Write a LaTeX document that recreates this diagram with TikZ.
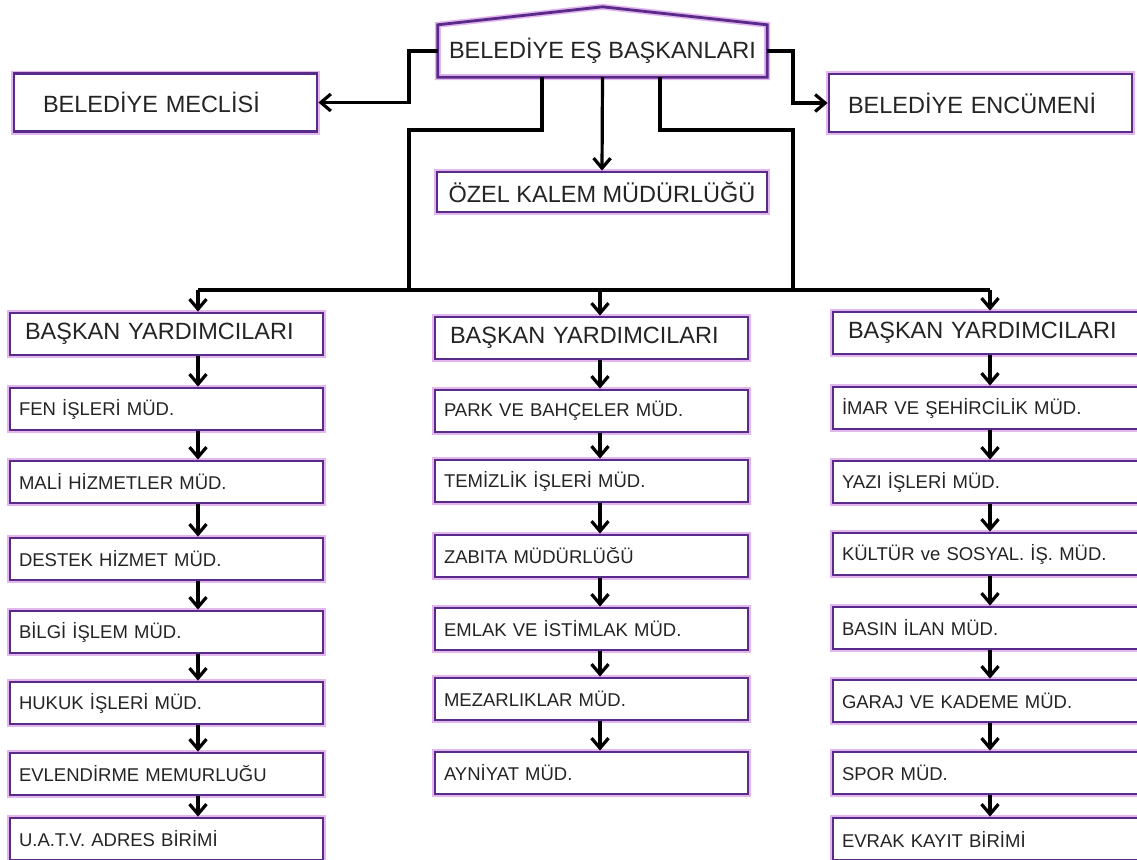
\documentclass[tikz,border=0pt]{standalone}
\usepackage{fontspec}
\setmainfont{Liberation Sans}
\usetikzlibrary{arrows.meta}

\definecolor{boxline}{RGB}{88,42,138}
\definecolor{halo}{RGB}{228,182,238}
\definecolor{ink}{RGB}{36,36,36}

\newcommand\bigfont{\fontsize{23.5}{28}\selectfont}
\newcommand\smallfont{\fontsize{18.5}{22}\selectfont}

\tikzset{
  box/.style={draw=boxline, line width=2.8pt, fill=white, text=ink,
    preaction={draw=halo, line width=6pt}},
  board/.style={box, font=\bigfont, minimum height=58pt, align=left},
  deputy/.style={box, font=\bigfont, minimum height=42pt, align=left,
    inner xsep=15pt, text width=283pt},
  unit/.style={box, font=\smallfont, minimum height=42pt, align=left,
    inner xsep=9pt, text width=295pt},
  wire/.style={line width=3.2pt, draw=black},
  link/.style={wire, -{Straight Barb[length=10pt,width=17pt]}}
}

\begin{document}
\begin{tikzpicture}[x=1pt,y=-1pt]
    \useasboundingbox (0,0) rectangle (1137,859);
    \fill[white] (0,0) rectangle (1137,859);

    % rails of the connectors
    \coordinate (lrail) at (409,0);
    \coordinate (rrail) at (793,0);
    \coordinate (lstub) at (542,130);
    \coordinate (rstub) at (660,130);
    \coordinate (bar) at (0,290);
    \coordinate (lcol) at (198,0);
    \coordinate (mcol) at (600,0);
    \coordinate (rcol) at (990,0);

    % top level
    \node[font=\bigfont, text=ink, minimum width=329pt, minimum height=52pt] at (602.5,51) (head) {BELEDİYE EŞ BAŞKANLARI};
    \draw[box, fill=none] (head.south west) -- (head.north west) -- ([yshift=18pt]head.north) -- (head.north east) -- (head.south east) -- cycle;
    \node[board, inner xsep=29pt, text width=245pt] at (165.5,102.5) (meclis) {BELEDİYE MECLİSİ};
    \node[board, inner xsep=19pt, text width=265pt] at (980.5,103) (encumen) {BELEDİYE ENCÜMENİ};
    \node[box, font=\bigfont, minimum width=330pt, minimum height=40pt] at (602,192) (ozel) {ÖZEL KALEM MÜDÜRLÜĞÜ};

    % deputies
    \node[deputy] at (166.5,334) (lyard) {BAŞKAN YARDIMCILARI};
    \node[deputy] at (591.5,338) (myard) {BAŞKAN YARDIMCILARI};
    \node[deputy] at (989.5,333) (ryard) {BAŞKAN YARDIMCILARI};

    % left column
    \node[unit] at (166.5,409) (fen) {FEN İŞLERİ MÜD.};
    \node[unit] at (166.5,482) (mali) {MALİ HİZMETLER MÜD.};
    \node[unit] at (166.5,559) (destek) {DESTEK HİZMET MÜD.};
    \node[unit] at (166.5,632) (bilgi) {BİLGİ İŞLEM MÜD.};
    \node[unit] at (166.5,703) (hukuk) {HUKUK İŞLERİ MÜD.};
    \node[unit] at (166.5,774) (evlen) {EVLENDİRME MEMURLUĞU};
    \node[unit] at (166.5,839) (uatv) {U.A.T.V. ADRES BİRİMİ};

    % middle column
    \node[unit] at (591.5,411) (park) {PARK VE BAHÇELER MÜD.};
    \node[unit] at (591.5,481) (temiz) {TEMİZLİK İŞLERİ MÜD.};
    \node[unit] at (591.5,556) (zabita) {ZABITA MÜDÜRLÜĞÜ};
    \node[unit] at (591.5,629) (emlak) {EMLAK VE İSTİMLAK MÜD.};
    \node[unit] at (591.5,699) (mezar) {MEZARLIKLAR MÜD.};
    \node[unit] at (591.5,773) (ayni) {AYNİYAT MÜD.};

    % right column
    \node[unit] at (989.5,408) (imar) {İMAR VE ŞEHİRCİLİK MÜD.};
    \node[unit] at (989.5,482) (yazi) {YAZI İŞLERİ MÜD.};
    \node[unit] at (989.5,554) (kultur) {KÜLTÜR ve SOSYAL. İŞ. MÜD.};
    \node[unit] at (989.5,628) (basin) {BASIN İLAN MÜD.};
    \node[unit] at (989.5,701) (garaj) {GARAJ VE KADEME MÜD.};
    \node[unit] at (989.5,773) (spor) {SPOR MÜD.};
    \node[unit] at (989.5,839) (evrak) {EVRAK KAYIT BİRİMİ};

    % connectors from the top
    \draw[link] (head.west) -- (head.west -| lrail) |- (meclis.east);
    \draw[link] (head.east) -- (head.east -| rrail) |- (encumen.west);
    \draw[link] (head.south) -- (ozel.north);
    \draw[wire] (head.south -| lstub) -- (lstub) -| (bar -| lrail);
    \draw[wire] (head.south -| rstub) -- (rstub) -| (bar -| rrail);
    \draw[wire] (bar -| lcol) -- (bar -| rcol);
    \draw[link] (bar -| lcol) -- (lyard.north -| lcol);
    \draw[link] (bar -| mcol) -- (myard.north -| mcol);
    \draw[link] (bar -| rcol) -- (ryard.north -| rcol);

    % left chain
    \draw[link] (lyard.south -| lcol) -- (fen.north -| lcol);
    \draw[link] (fen.south -| lcol) -- (mali.north -| lcol);
    \draw[link] (mali.south -| lcol) -- (destek.north -| lcol);
    \draw[link] (destek.south -| lcol) -- (bilgi.north -| lcol);
    \draw[link] (bilgi.south -| lcol) -- (hukuk.north -| lcol);
    \draw[link] (hukuk.south -| lcol) -- (evlen.north -| lcol);
    \draw[link] (evlen.south -| lcol) -- (uatv.north -| lcol);

    % middle chain
    \draw[link] (myard.south -| mcol) -- (park.north -| mcol);
    \draw[link] (park.south -| mcol) -- (temiz.north -| mcol);
    \draw[link] (temiz.south -| mcol) -- (zabita.north -| mcol);
    \draw[link] (zabita.south -| mcol) -- (emlak.north -| mcol);
    \draw[link] (emlak.south -| mcol) -- (mezar.north -| mcol);
    \draw[link] (mezar.south -| mcol) -- (ayni.north -| mcol);

    % right chain
    \draw[link] (ryard.south -| rcol) -- (imar.north -| rcol);
    \draw[link] (imar.south -| rcol) -- (yazi.north -| rcol);
    \draw[link] (yazi.south -| rcol) -- (kultur.north -| rcol);
    \draw[link] (kultur.south -| rcol) -- (basin.north -| rcol);
    \draw[link] (basin.south -| rcol) -- (garaj.north -| rcol);
    \draw[link] (garaj.south -| rcol) -- (spor.north -| rcol);
    \draw[link] (spor.south -| rcol) -- (evrak.north -| rcol);
\end{tikzpicture}
\end{document}
